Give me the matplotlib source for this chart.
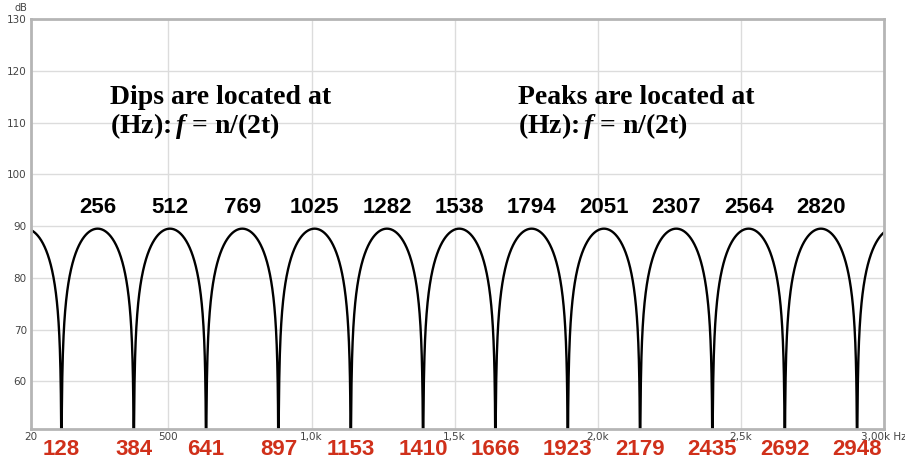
import numpy as np
import matplotlib.pyplot as plt

# comb filter response: labels as printed on the chart
peak_labels = [256, 512, 769, 1025, 1282, 1538, 1794, 2051, 2307, 2564, 2820]
dip_labels = [128, 384, 641, 897, 1153, 1410, 1666, 1923, 2179, 2435, 2692, 2948]
# the measured curve: spacing between peaks (Hz) and peak level (dB)
comb_spacing = 252.7
peak_level = 89.5

x_ticks = [20, 500, 1000, 1500, 2000, 2500, 3000]
x_ticklabels = ['20', '500', '1,0k', '1,5k', '2,0k', '2,5k', '3,00k Hz']
y_ticks = [60, 70, 80, 90, 100, 110, 120, 130]

plt.rcParams['mathtext.fontset'] = 'custom'
plt.rcParams['mathtext.it'] = 'Liberation Serif:italic:bold'
plt.rcParams['mathtext.rm'] = 'Liberation Serif:bold'

fig = plt.figure(figsize=(9.05, 4.63), dpi=100)
ax = fig.add_axes([31 / 905, 1 - 429 / 463, 853 / 905, 410 / 463])

peak_pos = comb_spacing * np.arange(1, len(peak_labels) + 1)
dip_pos = comb_spacing * (np.arange(len(dip_labels)) + 0.5)

f = np.linspace(20, 3000, 6000)
f = np.sort(np.concatenate([f, dip_pos]))
level = peak_level + 20 * np.log10(np.maximum(np.abs(np.cos(np.pi * f / comb_spacing)), 1e-6))
ax.plot(f, level, color='black', lw=1.7)

ax.set_xlim(20, 3000)
ax.set_ylim(50.8, 130)
ax.set_xticks(x_ticks)
ax.set_xticklabels(x_ticklabels)
ax.set_yticks(y_ticks)
ax.grid(True, color='#dcdcdc', lw=1)
ax.tick_params(length=0, labelsize=7.5, colors='#444444', pad=3)
ax.tick_params(axis='x', pad=2)
for s in ax.spines.values():
    s.set_color('#b5b5b5')
    s.set_linewidth(2)

ax.text(-0.012, 1.027, 'dB', transform=ax.transAxes, ha='center', va='center',
        fontsize=7, color='#444444')

for p, lab in zip(peak_pos, peak_labels):
    ax.text(p, 93.5, str(lab), ha='center', va='center', fontsize=16,
            fontweight='bold', family='Liberation Sans')

for d, lab in zip(dip_pos, dip_labels):
    ax.text(d, -0.025, str(lab), transform=ax.get_xaxis_transform(), ha='center',
            va='top', fontsize=16, fontweight='bold', color='#d0301a',
            family='Liberation Sans')

ax.text(0.093, 0.77, 'Dips are located at\n(Hz):$\\,f$ = n/(2t)',
        transform=ax.transAxes, ha='left', va='center', fontsize=20,
        fontweight='bold', family='Liberation Serif', linespacing=1.05)
ax.text(0.571, 0.77, 'Peaks are located at\n(Hz):$\\,f$ = n/(2t)',
        transform=ax.transAxes, ha='left', va='center', fontsize=20,
        fontweight='bold', family='Liberation Serif', linespacing=1.05)

fig.savefig('out.png', dpi=100)
